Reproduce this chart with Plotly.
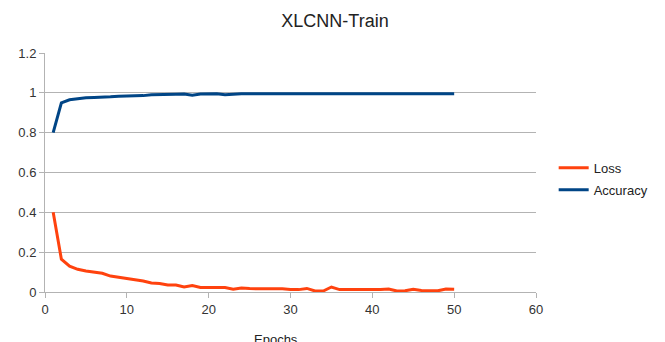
import plotly.graph_objects as go

epochs = list(range(1, 51))
loss = [0.40, 0.165, 0.13, 0.114, 0.105, 0.099, 0.094, 0.08, 0.074, 0.067,
        0.062, 0.055, 0.045, 0.043, 0.035, 0.035, 0.025, 0.033, 0.023, 0.022,
        0.022, 0.022, 0.014, 0.02, 0.017, 0.017, 0.017, 0.016, 0.016, 0.012,
        0.012, 0.018, 0.005, 0.005, 0.025, 0.012, 0.012, 0.012, 0.01, 0.012,
        0.012, 0.015, 0.005, 0.006, 0.014, 0.008, 0.008, 0.006, 0.015, 0.014]
accuracy = [0.80, 0.95, 0.965, 0.971, 0.975, 0.977, 0.977, 0.98, 0.983, 0.983,
            0.986, 0.986, 0.99, 0.99, 0.991, 0.993, 0.994, 0.988, 0.994, 0.995,
            0.995, 0.99, 0.994, 0.995, 0.996, 0.996, 0.996, 0.996, 0.996, 0.996,
            0.996, 0.996, 0.996, 0.996, 0.996, 0.996, 0.996, 0.996, 0.996, 0.996,
            0.996, 0.996, 0.996, 0.996, 0.996, 0.996, 0.996, 0.996, 0.996, 0.996]

FONT = "Liberation Sans"
W, H = 657, 334  # page body has an 8px margin

fig = go.Figure()
fig.add_trace(go.Scatter(x=epochs, y=loss, mode="lines", name="Loss", legendgroup="a",
                         line=dict(color="#ff420e", width=3)))
fig.add_trace(go.Scatter(x=epochs, y=accuracy, mode="lines", name="Accuracy", legendgroup="b",
                         line=dict(color="#004586", width=3)))

fig.update_layout(
    width=W, height=H,
    margin=dict(l=37, r=129, t=45, b=50, autoexpand=False),
    paper_bgcolor="white", plot_bgcolor="white",
    font=dict(family=FONT, size=13, color="#333333"),
    title=dict(text="XLCNN-Train", x=327 / W, xanchor="center",
               y=1 - 13 / H, yanchor="middle",
               font=dict(family=FONT, size=18, color="#222222")),
    legend=dict(x=1.036, xanchor="left", y=0.582, yanchor="top",
                traceorder="grouped", tracegroupgap=2,
                font=dict(family=FONT, size=13, color="#222222"),
                bgcolor="rgba(0,0,0,0)", itemwidth=30),
    showlegend=True,
)
fig.update_xaxes(range=[0, 60], dtick=10, showgrid=False, zeroline=False,
                 showline=True, linecolor="#b3b3b3", linewidth=1,
                 ticks="outside", ticklen=5, tickcolor="#b3b3b3", automargin=False,
                 tickfont=dict(family=FONT, size=13, color="#333333"))
fig.update_yaxes(range=[0, 1.2], dtick=0.2, showgrid=True, gridcolor="#b3b3b3",
                 zeroline=False, showline=True, linecolor="#b3b3b3", linewidth=1,
                 ticks="outside", ticklen=5, tickcolor="#b3b3b3", automargin=False,
                 tickfont=dict(family=FONT, size=13, color="#333333"))
fig.add_annotation(text="Epochs", xref="paper", yref="paper",
                   x=(276 - 45) / 491, y=(292 - 339) / 239,
                   xanchor="center", yanchor="middle", showarrow=False,
                   font=dict(family=FONT, size=13, color="#222222"))

fig.write_html("out.html")
